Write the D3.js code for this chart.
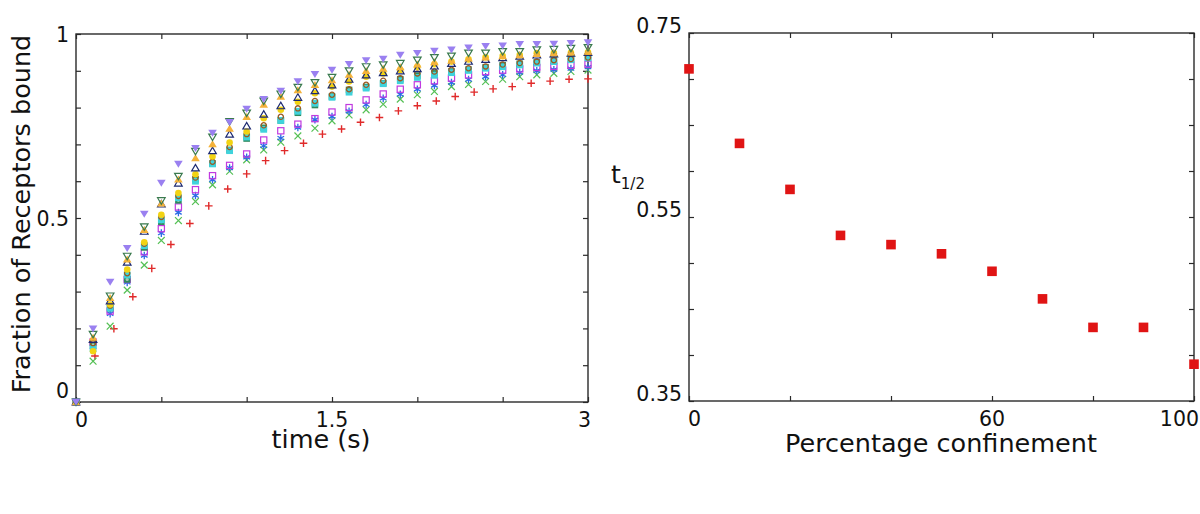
<!DOCTYPE html>
<html><head><meta charset="utf-8">
<script src="https://cdn.jsdelivr.net/npm/d3@7"></script>
<style>
body{margin:0;background:#fff;}
svg{display:block;}
text{font-family:"DejaVu Sans",sans-serif;fill:#111;}
</style>
</head><body>
<svg id="chart" width="1200" height="514"></svg>
<script>
// ---------- DATA ----------
const times = [0,0.1,0.2,0.3,0.4,0.5,0.6,0.7,0.8,0.9,1.0,1.1,1.2,1.3,1.4,1.5,1.6,1.7,1.8,1.9,2.0,2.1,2.2,2.3,2.4,2.5,2.6,2.7,2.8,2.9,3.0];
const timesRed = [0.111,0.222,0.333,0.444,0.556,0.667,0.778,0.889,1.0,1.111,1.222,1.333,1.444,1.556,1.667,1.778,1.889,2.0,2.111,2.222,2.333,2.444,2.556,2.667,2.778,2.889,3.0];

const purpleTriDown = [0,0.199,0.326,0.418,0.511,0.595,0.647,0.690,0.731,0.760,0.796,0.823,0.845,0.871,0.891,0.902,0.918,0.928,0.932,0.943,0.948,0.954,0.957,0.963,0.967,0.968,0.972,0.972,0.973,0.975,0.977];
const greenTriDownOpen = [0,0.184,0.288,0.396,0.476,0.547,0.613,0.681,0.720,0.762,0.785,0.818,0.837,0.855,0.868,0.882,0.900,0.911,0.916,0.920,0.929,0.936,0.940,0.948,0.948,0.952,0.952,0.957,0.958,0.961,0.963];
const orangeTriUp = [0,0.175,0.283,0.388,0.468,0.540,0.605,0.663,0.701,0.743,0.775,0.808,0.830,0.848,0.862,0.875,0.890,0.900,0.906,0.910,0.918,0.924,0.928,0.934,0.937,0.940,0.943,0.946,0.948,0.950,0.952];
const navyTriUpOpen = [0,0.170,0.275,0.380,0.464,0.538,0.595,0.636,0.683,0.728,0.750,0.782,0.805,0.828,0.846,0.862,0.877,0.889,0.895,0.900,0.906,0.913,0.920,0.926,0.931,0.936,0.940,0.943,0.946,0.948,0.950];
const yellowCircle = [0,0.138,0.265,0.360,0.434,0.509,0.568,0.619,0.667,0.705,0.735,0.771,0.794,0.816,0.839,0.857,0.871,0.884,0.893,0.902,0.911,0.918,0.925,0.931,0.937,0.940,0.943,0.948,0.948,0.949,0.950];
const brownCircleOpen = [0,0.160,0.262,0.350,0.430,0.503,0.560,0.610,0.653,0.693,0.728,0.752,0.775,0.798,0.818,0.835,0.850,0.862,0.873,0.880,0.893,0.898,0.903,0.907,0.912,0.917,0.921,0.925,0.929,0.932,0.936];
const cyanSquare = [0,0.145,0.255,0.345,0.425,0.495,0.555,0.600,0.647,0.683,0.720,0.741,0.765,0.790,0.812,0.828,0.842,0.853,0.865,0.873,0.882,0.888,0.895,0.901,0.907,0.911,0.916,0.921,0.925,0.930,0.935];
const greenRingSquare = [0,0.155,0.255,0.333,0.420,0.490,0.548,0.605,0.648,0.685,0.716,0.745,0.765,0.786,0.807,0.830,0.848,0.856,0.866,0.877,0.887,0.893,0.898,0.903,0.909,0.915,0.919,0.923,0.928,0.933,0.938];
const magentaSquareOpen = [0,0.163,0.247,0.333,0.408,0.471,0.530,0.577,0.615,0.643,0.674,0.712,0.737,0.755,0.770,0.788,0.800,0.821,0.837,0.850,0.862,0.873,0.880,0.889,0.898,0.902,0.905,0.909,0.912,0.915,0.918];
const blueAsterisk = [0,0.150,0.240,0.325,0.398,0.459,0.515,0.561,0.604,0.636,0.665,0.696,0.717,0.746,0.767,0.776,0.790,0.808,0.825,0.836,0.850,0.860,0.868,0.876,0.884,0.889,0.895,0.900,0.903,0.906,0.910];
const greenTimes = [0,0.111,0.206,0.304,0.372,0.439,0.493,0.545,0.590,0.627,0.658,0.685,0.706,0.723,0.744,0.764,0.780,0.794,0.809,0.823,0.835,0.844,0.857,0.863,0.871,0.877,0.884,0.889,0.893,0.898,0.902];
const redPlus = [0.125,0.199,0.286,0.363,0.428,0.485,0.533,0.579,0.620,0.656,0.683,0.703,0.728,0.742,0.760,0.773,0.791,0.805,0.818,0.830,0.842,0.851,0.857,0.866,0.872,0.877,0.878];

const confinement = [0,10,20,30,40,50,60,70,80,90,100];
const tHalf = [0.711,0.630,0.580,0.530,0.520,0.510,0.491,0.461,0.430,0.430,0.390];

const leftXTicks = [0,0.5,1,1.5,2,2.5,3];
const leftXLabels = ["0","1.5","3"];
const leftYTicks = [0,0.1,0.2,0.3,0.4,0.5,0.6,0.7,0.8,0.9,1];
const leftYLabels = ["0","0.5","1"];
const rightXTicks = [0,20,40,60,80,100];
const rightXLabels = ["0","60","100"];
const rightYTicks = [0.35,0.40,0.45,0.50,0.55,0.60,0.65,0.70,0.75];
const rightYLabels = ["0.35","0.55","0.75"];

// ---------- SETUP ----------
const svg = d3.select("#chart");
const xL = d3.scaleLinear().domain([0,3]).range([76,588]);
const yL = d3.scaleLinear().domain([0,1]).range([402,34]);
const xR = d3.scaleLinear().domain([0,100]).range([689,1194]);
const yR = d3.scaleLinear().domain([0.35,0.75]).range([401,33]);

const axisColor = "#2a2a2a";

function frame(x, y, xt, yt) {
  const g = svg.append("g");
  const [x0,x1] = x.range(); const [y0,y1] = y.range();
  const axes = [
    [d3.axisBottom(x).tickValues(xt), `translate(0,${y0})`],
    [d3.axisTop(x).tickValues(xt), `translate(0,${y1})`],
    [d3.axisLeft(y).tickValues(yt), `translate(${x0},0)`],
    [d3.axisRight(y).tickValues(yt), `translate(${x1},0)`]
  ];
  axes.forEach(([ax,tr]) => {
    const a = g.append("g").attr("transform", tr)
      .call(ax.tickSize(-5).tickFormat(""));
    a.select(".domain").remove();
    a.selectAll("line").attr("stroke", axisColor).attr("stroke-width",1.2);
  });
  g.append("rect").attr("x",x0).attr("y",y1).attr("width",x1-x0).attr("height",y0-y1)
    .attr("fill","none").attr("stroke",axisColor).attr("stroke-width",1.4);
}
frame(xL, yL, leftXTicks, leftYTicks);
frame(xR, yR, rightXTicks, rightYTicks);

// ---------- MARKERS ----------
const markers = {
  triDown: (g,c) => g.append("path").attr("d","M-4.3,-3.2L4.3,-3.2L0,3.8Z").attr("fill",c),
  triDownOpen: (g,c) => g.append("path").attr("d","M-3.8,-3L3.8,-3L0,3.5Z").attr("fill","none").attr("stroke",c).attr("stroke-width",1.2),
  triUp: (g,c) => g.append("path").attr("d","M-4.3,3.2L4.3,3.2L0,-3.8Z").attr("fill",c),
  triUpOpen: (g,c) => g.append("path").attr("d","M-3.8,3L3.8,3L0,-3.5Z").attr("fill","none").attr("stroke",c).attr("stroke-width",1.2),
  circle: (g,c) => g.append("circle").attr("r",3.3).attr("fill",c),
  circleOpen: (g,c) => g.append("circle").attr("r",2.6).attr("fill","none").attr("stroke",c).attr("stroke-width",1.3),
  square: (g,c) => g.append("rect").attr("x",-3.4).attr("y",-3.4).attr("width",6.8).attr("height",6.8).attr("fill",c),
  ringSquare: (g,c) => { g.append("rect").attr("x",-3.3).attr("y",-3.3).attr("width",6.6).attr("height",6.6).attr("fill",c);
                         g.append("circle").attr("r",1.6).attr("fill","#a8c8b0"); },
  squareOpen: (g,c) => g.append("rect").attr("x",-3.1).attr("y",-3.1).attr("width",6.2).attr("height",6.2).attr("fill","none").attr("stroke",c).attr("stroke-width",1.2),
  asterisk: (g,c) => g.append("path").attr("d","M0,-3.8V3.8M-3.3,-1.9L3.3,1.9M-3.3,1.9L3.3,-1.9").attr("stroke",c).attr("stroke-width",1.3),
  times: (g,c) => g.append("path").attr("d","M-3.4,-3.4L3.4,3.4M-3.4,3.4L3.4,-3.4").attr("stroke",c).attr("stroke-width",1.2),
  plus: (g,c) => g.append("path").attr("d","M-3.8,0H3.8M0,-3.8V3.8").attr("stroke",c).attr("stroke-width",1.4)
};

const series = [
  {t: timesRed, v: redPlus, m: "plus", c: "#e02a2a"},
  {t: times, v: greenTimes, m: "times", c: "#55c055"},
  {t: times, v: blueAsterisk, m: "asterisk", c: "#2a6be6"},
  {t: times, v: magentaSquareOpen, m: "squareOpen", c: "#c03ae0"},
  {t: times, v: greenRingSquare, m: "ringSquare", c: "#2f8a5e"},
  {t: times, v: cyanSquare, m: "square", c: "#3fd3dc"},
  {t: times, v: brownCircleOpen, m: "circleOpen", c: "#9a5a22"},
  {t: times, v: yellowCircle, m: "circle", c: "#f2d313"},
  {t: times, v: navyTriUpOpen, m: "triUpOpen", c: "#1d2a72"},
  {t: times, v: orangeTriUp, m: "triUp", c: "#f4b23a"},
  {t: times, v: greenTriDownOpen, m: "triDownOpen", c: "#3a7a4e"},
  {t: times, v: purpleTriDown, m: "triDown", c: "#9a80f0"}
];

const gL = svg.append("g");
series.forEach(s => {
  s.v.forEach((val,i) => {
    const g = gL.append("g").attr("transform",`translate(${xL(s.t[i])},${yL(val)})`);
    markers[s.m](g, s.c);
  });
});

// right panel points
svg.append("g").selectAll("rect").data(confinement).join("rect")
  .attr("x", (d) => xR(d) - 4.8)
  .attr("y", (d,i) => yR(tHalf[i]) - 4.8)
  .attr("width", 9.6).attr("height", 9.6)
  .attr("fill", "#e01414");

// ---------- TEXT ----------
const tickFont = "20.5px";
const titleFont = "25.5px";

// left y labels
svg.append("g").selectAll("text").data(leftYLabels).join("text")
  .attr("x", 69).attr("text-anchor","end")
  .attr("y", d => yL(+d) + (+d === 0 ? -4 : 8.3))
  .style("font-size", tickFont).text(d => d);
// left x labels
svg.append("g").selectAll("text").data(leftXLabels).join("text")
  .attr("x", (d,i) => xL(+d) + (i===0 ? -1 : (i===leftXLabels.length-1 ? 3 : 0)))
  .attr("text-anchor", (d,i) => i===0 ? "start" : (i===leftXLabels.length-1 ? "end" : "middle"))
  .attr("y", 426.5).style("font-size", tickFont).text(d => d);
// right y labels
svg.append("g").selectAll("text").data(rightYLabels).join("text")
  .attr("x", 682).attr("text-anchor","end")
  .attr("y", d => yR(+d)).style("font-size", tickFont).text(d => d);
// right x labels
svg.append("g").selectAll("text").data(rightXLabels).join("text")
  .attr("x", (d,i) => xR(+d) + (i===0 ? -1 : (i===rightXLabels.length-1 ? 5 : 0)))
  .attr("text-anchor", (d,i) => i===0 ? "start" : (i===rightXLabels.length-1 ? "end" : "middle"))
  .attr("y", 425.5).style("font-size", tickFont).text(d => d);

// axis titles
svg.append("text").attr("transform","translate(30,214) rotate(-90)")
  .attr("text-anchor","middle").style("font-size", titleFont).text("Fraction of Receptors bound");
svg.append("text").attr("x",321).attr("y",448).attr("text-anchor","middle")
  .style("font-size", titleFont).text("time (s)");
svg.append("text").attr("x",941).attr("y",452).attr("text-anchor","middle")
  .style("font-size", titleFont).text("Percentage confinement");
const th = svg.append("text").attr("x",611).attr("y",183).style("font-size","25px");
th.append("tspan").text("t");
th.append("tspan").attr("dy",6).style("font-size","15px").text("1/2");
</script>
</body></html>
